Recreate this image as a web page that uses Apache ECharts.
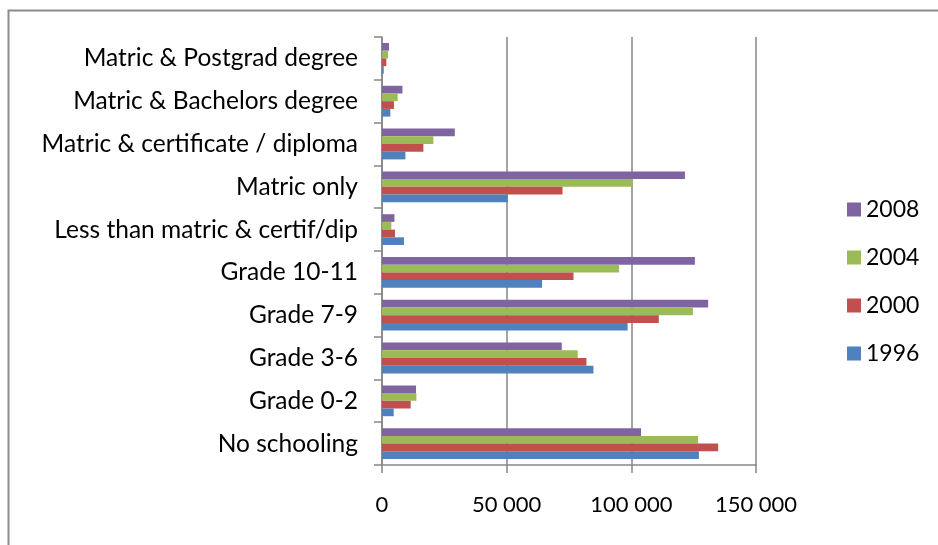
<!DOCTYPE html>
<html>
<head>
<meta charset="utf-8">
<script src="https://cdn.jsdelivr.net/npm/echarts@6/dist/echarts.min.js"></script>
<style>
  html, body { margin: 0; padding: 0; background: #fff; }
  #chart { width: 938px; height: 545px; }
</style>
</head>
<body>
<div id="chart"></div>
<script>
// Education levels, bottom to top on the category axis
const categories = [
  'No schooling',
  'Grade 0-2',
  'Grade 3-6',
  'Grade 7-9',
  'Grade 10-11',
  'Less than matric & certif/dip',
  'Matric only',
  'Matric & certificate / diploma',
  'Matric & Bachelors degree',
  'Matric & Postgrad degree'
];

// Series drawn top-to-bottom inside each category band
const years = ['2008', '2004', '2000', '1996'];

const values1996 = [127100, 4700, 84800, 98500, 64200, 8800, 50450, 9400, 3350, 700];
const values2000 = [134800, 11500, 82000, 111000, 76800, 5200, 72400, 16600, 4800, 1750];
const values2004 = [126800, 13800, 78500, 124700, 95100, 3750, 100500, 20600, 6300, 2400];
const values2008 = [103900, 13650, 72100, 130800, 125500, 5000, 121500, 29200, 8200, 2800];

const valueTicks = [0, 50000, 100000, 150000];

const colors = {
  '1996': '#4F81BD',
  '2000': '#C0504D',
  '2004': '#9BBB59',
  '2008': '#8064A2'
};

const seriesValues = {
  '1996': values1996,
  '2000': values2000,
  '2004': values2004,
  '2008': values2008
};

const FONT = 'Lato';
const AXIS_GREY = '#868686';

function formatThousands(v) {
  return String(v).replace(/\B(?=(\d{3})+(?!\d))/g, ' ');
}

const chart = echarts.init(document.getElementById('chart'), null, { renderer: 'canvas' });

chart.setOption({
  animation: false,
  backgroundColor: '#ffffff',
  textStyle: { fontFamily: FONT },
  graphic: [{
    type: 'rect',
    left: 6,
    top: 8,
    shape: { x: 0, y: 0, width: 960, height: 560 },
    style: { fill: 'none', stroke: '#8c8c8c', lineWidth: 2 },
    silent: true,
    z: -1
  }],
  grid: { left: 382, right: 182, top: 37, bottom: 80, containLabel: false },
  legend: {
    orient: 'vertical',
    left: 842,
    top: 193,
    itemWidth: 14,
    itemHeight: 14,
    itemGap: 25,
    icon: 'rect',
    data: ['2008', '2004', '2000', '1996'],
    textStyle: { fontFamily: FONT, fontSize: 23, color: '#000' }
  },
  xAxis: {
    type: 'value',
    min: valueTicks[0],
    max: valueTicks[valueTicks.length - 1],
    interval: valueTicks[1] - valueTicks[0],
    axisLine: { show: true, lineStyle: { color: AXIS_GREY, width: 1.5 } },
    axisTick: { show: true, length: 8, lineStyle: { color: AXIS_GREY, width: 1.5 } },
    splitLine: { show: true, lineStyle: { color: AXIS_GREY, width: 1.5 } },
    axisLabel: {
      margin: 29,
      fontFamily: FONT,
      fontSize: 22,
      color: '#000',
      formatter: formatThousands
    }
  },
  yAxis: {
    type: 'category',
    data: categories,
    axisLine: { show: true, lineStyle: { color: AXIS_GREY, width: 1.5 } },
    axisTick: { show: true, length: 8, lineStyle: { color: AXIS_GREY, width: 1.5 } },
    axisLabel: {
      margin: 24,
      fontFamily: FONT,
      fontSize: 24.5,
      color: '#000'
    }
  },
  series: years.map(y => ({
    name: y,
    type: 'bar',
    data: seriesValues[y],
    barGap: '0%',
    barCategoryGap: '28%',
    itemStyle: { color: colors[y] }
  }))
});
</script>
</body>
</html>
